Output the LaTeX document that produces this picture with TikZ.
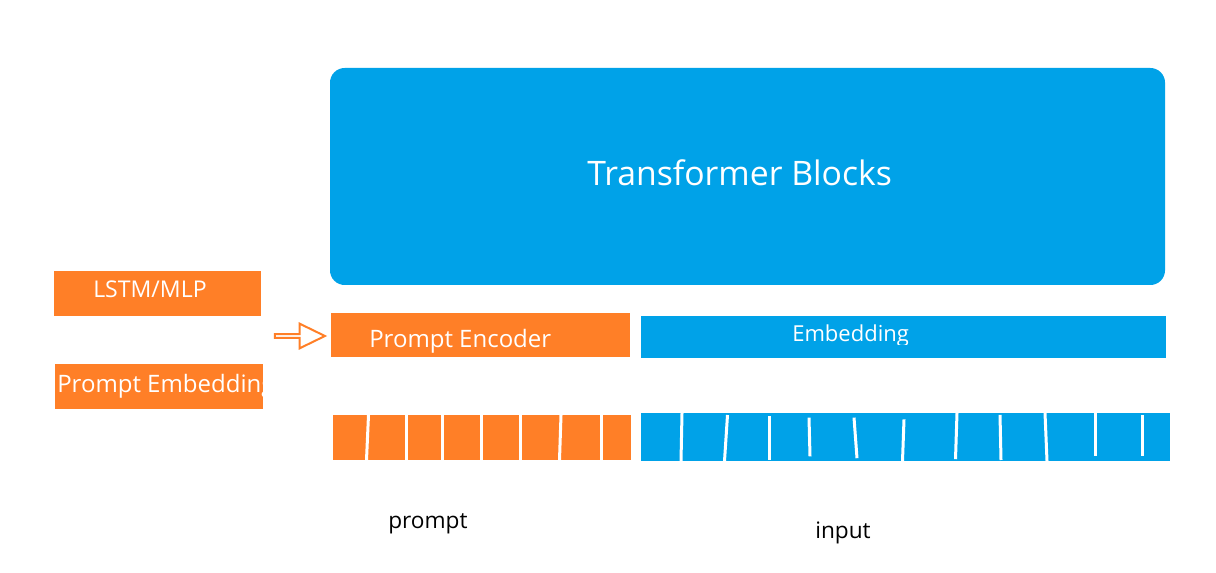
\documentclass[tikz,border=0pt]{standalone}
\usepackage{fontspec}
\setmainfont{Open Sans}
\usetikzlibrary{shapes.arrows, fit}
\definecolor{paintorange}{RGB}{255,127,39}
\definecolor{paintblue}{RGB}{0,162,232}
\tikzset{
    orangebox/.style={rectangle, fill=paintorange, inner sep=0pt},
    bluebox/.style={rectangle, fill=paintblue, inner sep=0pt},
    boxtext/.style={anchor=base west, text=white, inner sep=0pt},
    tokengap/.style={draw=white, line width=2.25pt},
    captext/.style={anchor=base west, text=black, inner sep=0pt, font=\fontsize{17}{20}\selectfont}
}

\begin{document}
\begin{tikzpicture}[x=0.75pt, y=-0.75pt]
    \useasboundingbox (0,0) rectangle (1216,573);

    % Transformer Blocks
    \node[bluebox, rounded corners=11pt, fit={(330,68) (1165,285)}] (tblocks) {};
    \node[boxtext, font=\fontsize{25.3}{30}\selectfont] (tblockstext) at (587,186) {Transformer Blocks};

    % Left side boxes
    \node[orangebox, fit={(54,271) (261,316)}] (lstm) {};
    \node[boxtext, font=\fontsize{17.3}{20}\selectfont] (lstmtext) at (93,298) {LSTM/MLP};
    \node[orangebox, fit={(55,364) (263,409)}] (pembed) {};
    \begin{scope}
        \clip (pembed.south west) rectangle (pembed.north east);
        \node[boxtext, font=\fontsize{18}{21}\selectfont] (pembedtext) at (57,392) {Prompt Embedding};
    \end{scope}

    % Hollow arrow
    \node[single arrow, draw=paintorange, fill=white, line width=1.5pt, minimum height=37.5pt, minimum width=18.5pt,
          single arrow head extend=4.2pt, single arrow tip angle=52, inner sep=0pt] (hint) at (298,336) {};

    % Encoder / embedding row
    \node[orangebox, fit={(331,313) (630,357)}] (encoder) {};
    \node[boxtext, font=\fontsize{18}{21}\selectfont] (encodertext) at (369,347) {Prompt Encoder};
    \node[bluebox, fit={(641,316) (1166,358)}] (embed) {};
    \begin{scope}
        \clip (embed.north west) rectangle (1166,344);
        \node[boxtext, font=\fontsize{16.5}{20}\selectfont] (embedtext) at (792,341) {Embedding};
    \end{scope}

    % Token rows
    \node[orangebox, fit={(333,415) (631,460)}] (ptokens) {};
    \foreach \a/\b in {368.5/366.5, 406.5/406.5, 442.5/442.5, 481.5/481.5, 520.5/520.5, 561/559.5, 601.5/601.5}
        \draw[tokengap] (\a,415) -- (\b,460);
    \node[bluebox, fit={(641,413) (1170,461)}] (itokens) {};
    \foreach \a/\b/\t/\u in {682/681/413/461, 727.5/724.5/415/461, 769/769/416/460, 809/810/417.6/456.4,
                             854/857/417.6/458.2, 904/902.5/419.4/461, 957/955.5/413/459.2, 1000/1001/414.8/460,
                             1045/1047/413/461, 1095/1095/413/456.4, 1142/1142/414.8/456.4}
        \draw[tokengap] (\a,\t) -- (\b,\u);

    % Labels
    \node[captext] (promptlabel) at (388,528) {prompt};
    \node[captext] (inputlabel) at (815,538) {input};
\end{tikzpicture}
\end{document}
